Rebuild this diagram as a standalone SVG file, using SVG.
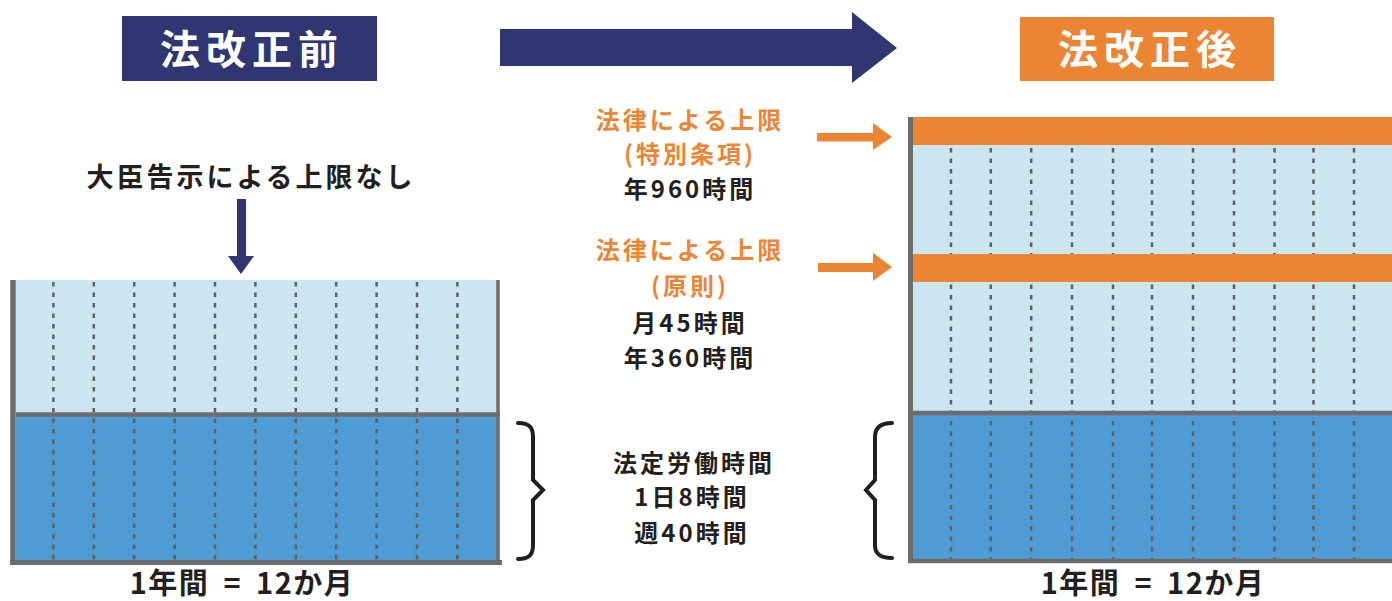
<svg xmlns="http://www.w3.org/2000/svg" width="1392" height="601" viewBox="0 0 1392 601">
<style>
text{font-family:"Noto Sans CJK JP","Noto Sans",sans-serif;font-weight:bold;text-anchor:middle}
.t{fill:#231f20;font-size:24px;letter-spacing:3px}
.o{fill:#ec8533;font-size:24px;letter-spacing:3px}
.h{fill:#ffffff;font-size:40px;letter-spacing:6px}
.b{fill:#231f20;font-size:29px;letter-spacing:1.5px;word-spacing:6px}
.dash{stroke:#5f5f5f;stroke-width:2.5;stroke-dasharray:4.5 6;fill:none}
.border{stroke:#6d6d6d;fill:none}
.light{fill:#cbe5f1}
.dark{fill:#4f9cd5}
.band{fill:#ec8533}
.brace{stroke:#231f20;stroke-width:4;fill:none;stroke-linecap:round;stroke-linejoin:miter}
</style>

<g id="title-before">
<rect x="122" y="16" width="255" height="65" fill="#303672"/>
<text class="h" x="252" y="64">法改正前</text>
</g>

<g id="title-after">
<rect x="1020" y="17" width="254" height="64" fill="#ec8533"/>
<text class="h" x="1150" y="64">法改正後</text>
</g>

<g id="big-arrow">
<polygon points="500,29 852,29 852,12 897,48 852,83 852,66 500,66" fill="#303672"/>
</g>

<g id="no-limit-label">
<text class="t" x="251" y="187" style="font-size:27px">大臣告示による上限なし</text>
</g>

<g id="chart-before">
<rect x="16" y="280" width="482" height="134" class="light"/>
<rect x="16" y="414" width="482" height="148" class="dark"/>
<g>
<line x1="53.4" y1="282" x2="53.4" y2="562" class="dash"/>
<line x1="93.8" y1="282" x2="93.8" y2="562" class="dash"/>
<line x1="134.2" y1="282" x2="134.2" y2="562" class="dash"/>
<line x1="174.6" y1="282" x2="174.6" y2="562" class="dash"/>
<line x1="215" y1="282" x2="215" y2="562" class="dash"/>
<line x1="255.4" y1="282" x2="255.4" y2="562" class="dash"/>
<line x1="295.8" y1="282" x2="295.8" y2="562" class="dash"/>
<line x1="336.2" y1="282" x2="336.2" y2="562" class="dash"/>
<line x1="376.6" y1="282" x2="376.6" y2="562" class="dash"/>
<line x1="417" y1="282" x2="417" y2="562" class="dash"/>
<line x1="457.4" y1="282" x2="457.4" y2="562" class="dash"/>
</g>
<line x1="16" y1="414.5" x2="500" y2="414.5" class="border" stroke-width="4.5"/>
<line x1="13" y1="280" x2="13" y2="565" class="border" stroke-width="5.5"/>
<line x1="498" y1="280" x2="498" y2="562" class="border" stroke-width="3.5"/>
<line x1="10" y1="562.5" x2="502" y2="562.5" class="border" stroke-width="5"/>
<text class="b" x="242" y="594">1年間 = 12か月</text>
</g>

<g id="chart-after">
<rect x="913" y="117" width="479" height="296" class="light"/>
<rect x="913" y="413" width="479" height="148" class="dark"/>
<g>
<line x1="951" y1="148" x2="951" y2="561" class="dash"/>
<line x1="990.8" y1="148" x2="990.8" y2="561" class="dash"/>
<line x1="1031.2" y1="148" x2="1031.2" y2="561" class="dash"/>
<line x1="1072" y1="148" x2="1072" y2="561" class="dash"/>
<line x1="1113" y1="148" x2="1113" y2="561" class="dash"/>
<line x1="1152" y1="148" x2="1152" y2="561" class="dash"/>
<line x1="1193" y1="148" x2="1193" y2="561" class="dash"/>
<line x1="1234" y1="148" x2="1234" y2="561" class="dash"/>
<line x1="1274.5" y1="148" x2="1274.5" y2="561" class="dash"/>
<line x1="1313.5" y1="148" x2="1313.5" y2="561" class="dash"/>
<line x1="1354" y1="148" x2="1354" y2="561" class="dash"/>
</g>
<rect x="913" y="117" width="479" height="28" class="band"/>
<rect x="913" y="254" width="479" height="28" class="band"/>
<line x1="913" y1="413" x2="1392" y2="413" class="border" stroke-width="4.5"/>
<line x1="910.5" y1="117" x2="910.5" y2="563" class="border" stroke-width="5"/>
<line x1="908" y1="561" x2="1392" y2="561" class="border" stroke-width="4.5"/>
<text class="b" x="1153" y="594">1年間 = 12か月</text>
</g>

<g id="special-limit-label">
<text class="o" x="690" y="129">法律による上限</text>
<text class="o" x="690" y="163">(特別条項)</text>
<text class="t" x="690" y="198">年960時間</text>
</g>

<g id="principle-limit-label">
<text class="o" x="690" y="259">法律による上限</text>
<text class="o" x="690" y="295">(原則)</text>
<text class="t" x="690" y="332">月45時間</text>
<text class="t" x="690" y="367">年360時間</text>
</g>

<g id="statutory-hours-label">
<text class="t" x="694" y="472">法定労働時間</text>
<text class="t" x="692" y="506">1日8時間</text>
<text class="t" x="692" y="542">週40時間</text>
</g>

<g id="connectors">
<rect x="237" y="199" width="9" height="58" fill="#303672"/>
<polygon points="228,256 254,256 241,274" fill="#303672"/>
<rect x="817" y="133" width="57" height="8.5" fill="#ec8533"/>
<polygon points="873,123 892,137 873,150" fill="#ec8533"/>
<rect x="818" y="263" width="56" height="9" fill="#ec8533"/>
<polygon points="873,253 892,267 873,281" fill="#ec8533"/>
<path class="brace" d="M518,423 C530,423 533,428 533,437 L533,480 L543,490 L533,500 L533,545 C533,554 530,559 518,559"/>
<path class="brace" d="M892,423 C880,423 875,428 875,437 L875,480 L866,490 L875,500 L875,545 C875,554 880,558 892,558"/>
</g>
</svg>
